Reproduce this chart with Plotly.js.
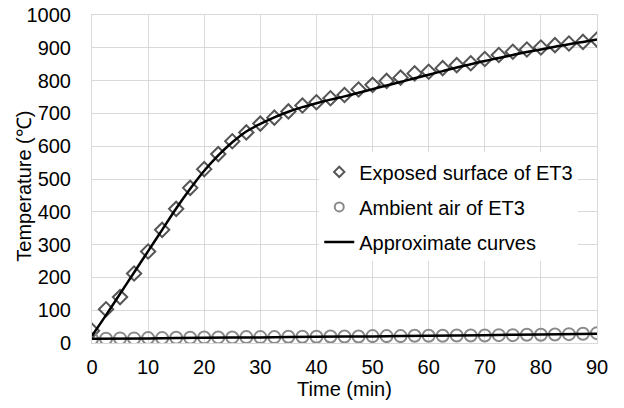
<!DOCTYPE html>
<html>
<head>
<meta charset="utf-8">
<script src="https://cdn.plot.ly/plotly-3.0.1.min.js"></script>
<style>
  html, body { margin: 0; padding: 0; background: #ffffff; }
  #chart { width: 624px; height: 408px; }
</style>
</head>
<body>
<div id="chart"></div>
<script>
// Measurement times (min), every 2.5 min
const timeMin = [0, 2.5, 5, 7.5, 10, 12.5, 15, 17.5, 20, 22.5, 25, 27.5, 30, 32.5, 35, 37.5,
  40, 42.5, 45, 47.5, 50, 52.5, 55, 57.5, 60, 62.5, 65, 67.5, 70, 72.5, 75, 77.5,
  80, 82.5, 85, 87.5, 90];

// Measured temperature of the exposed surface (°C)
const exposedSurface = [37, 103, 140, 212, 279, 345, 409, 473, 530, 576, 615, 642, 669, 687, 706, 724,
  734, 746, 756, 773, 787, 799, 809, 822, 827, 838, 847, 853, 866, 878, 888, 895,
  901, 908, 913, 918, 925];

// Measured ambient air temperature (°C)
const ambientAir = [12, 13, 14, 14, 15, 15, 16, 16, 17, 17, 17, 18, 18, 18, 19, 19,
  19, 20, 20, 20, 21, 21, 21, 22, 22, 22, 23, 23, 23, 24, 24, 25,
  25, 26, 27, 28, 30];

// Fitted curve through the exposed-surface data (°C)
const exposedFit = [22, 85, 150, 215, 280, 345, 410, 470, 525, 572, 612, 645, 668, 688, 705, 719,
  731, 742, 752, 763, 774, 785, 796, 807, 818, 829, 840, 850, 860, 869, 878, 887,
  895, 903, 911, 918, 925];

// Fitted curve through the ambient-air data (°C)
const fitTime = [0, 10, 20, 30, 40, 50, 60, 70, 80, 90];
const ambientFit = [13, 14, 16, 17, 19, 20, 22, 24, 26, 28];

const seriesNames = ['Exposed surface of ET3', 'Ambient air of ET3', 'Approximate curves'];
const xTitle = 'Time (min)';
const yTitle = 'Temperature (℃)';

const font = { family: 'Liberation Sans, Arial, sans-serif', size: 20, color: '#000000' };
const diamondColor = '#555555';
const circleColor = '#8a8a8a';

const traces = [
  {
    x: timeMin, y: exposedSurface, type: 'scatter', mode: 'markers',
    name: seriesNames[0], showlegend: false,
    marker: { symbol: 'diamond-open', size: 11, color: diamondColor, line: { width: 2, color: diamondColor } }
  },
  {
    x: timeMin, y: ambientAir, type: 'scatter', mode: 'markers',
    name: seriesNames[1], showlegend: false,
    marker: { symbol: 'circle-open', size: 12, color: circleColor, line: { width: 2, color: circleColor } }
  },
  {
    x: timeMin, y: exposedFit, type: 'scatter', mode: 'lines',
    name: seriesNames[2], showlegend: false,
    line: { color: '#000000', width: 2.5, shape: 'spline' }
  },
  {
    x: fitTime, y: ambientFit, type: 'scatter', mode: 'lines',
    name: seriesNames[2], showlegend: false,
    line: { color: '#000000', width: 2.5, shape: 'spline' }
  },
  // legend keys (smaller symbols than the plotted markers)
  {
    x: [null], y: [null], type: 'scatter', mode: 'markers',
    name: seriesNames[0], legendgroup: 'a',
    marker: { symbol: 'diamond-open', size: 8, color: diamondColor, line: { width: 2, color: diamondColor } }
  },
  {
    x: [null], y: [null], type: 'scatter', mode: 'markers',
    name: seriesNames[1], legendgroup: 'b',
    marker: { symbol: 'circle-open', size: 9, color: circleColor, line: { width: 2, color: circleColor } }
  },
  {
    x: [null], y: [null], type: 'scatter', mode: 'lines',
    name: seriesNames[2], legendgroup: 'c',
    line: { color: '#000000', width: 2.5 }
  }
];

const layout = {
  width: 624, height: 408,
  margin: { l: 92, r: 27, t: 15, b: 65 },
  paper_bgcolor: '#ffffff', plot_bgcolor: '#ffffff',
  font: font,
  showlegend: true,
  legend: {
    x: 0.45, y: 0.415, xanchor: 'left', yanchor: 'middle',
    bgcolor: '#ffffff', borderwidth: 0,
    font: font, traceorder: 'grouped', tracegroupgap: 6
  },
  xaxis: {
    range: [0, 90], dtick: 10, tick0: 0,
    showgrid: true, gridcolor: '#d9d9d9', gridwidth: 1,
    showline: true, mirror: true, linecolor: '#d9d9d9', linewidth: 1,
    zeroline: false, ticks: '', ticklen: 0, ticklabelstandoff: 6,
    tickfont: font,
    title: { text: xTitle, font: font, standoff: 3 }
  },
  yaxis: {
    range: [0, 1000], dtick: 100, tick0: 0,
    showgrid: true, gridcolor: '#d9d9d9', gridwidth: 1,
    showline: true, mirror: true, linecolor: '#d9d9d9', linewidth: 1,
    zeroline: false, ticks: 'outside', ticklen: 8, tickcolor: 'rgba(0,0,0,0)',
    ticklabelstandoff: 8,
    tickfont: font
  },
  // vertical axis title, set close to the tick labels
  annotations: [{
    text: yTitle, font: font, textangle: -90, showarrow: false,
    xref: 'paper', yref: 'paper', x: -0.135, y: 0.479,
    xanchor: 'center', yanchor: 'middle'
  }]
};

Plotly.newPlot('chart', traces, layout, { displayModeBar: false, staticPlot: true });
</script>
</body>
</html>
